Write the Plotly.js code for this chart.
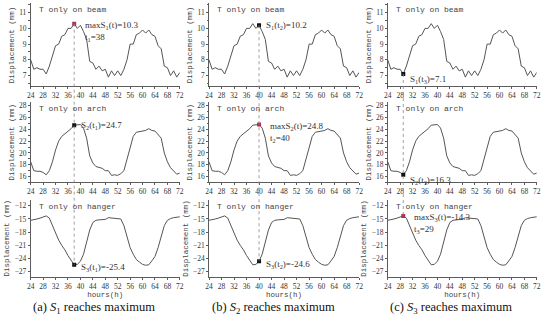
<!DOCTYPE html>
<html>
<head>
<meta charset="utf-8">
<script src="https://cdn.plot.ly/plotly-3.0.1.min.js"></script>
<style>html,body{margin:0;padding:0;background:#fff;}#chart{width:550px;height:323px;}</style>
</head>
<body>
<div id="chart"></div>
<script>
// ---- data ----
const hours = [24,25,26,27,28,29,30,31,32,33,34,35,36,37,38,39,40,41,42,43,44,45,46,47,48,49,50,51,52,53,54,55,56,57,58,59,60,61,62,63,64,65,66,67,68,69,70,71,72];
const beamDisp = [8.0,7.4,7.5,7.4,7.4,7.1,7.6,8.2,8.9,9.0,9.5,9.6,10.0,10.0,10.3,10.0,10.2,9.8,9.3,7.9,7.8,7.4,7.6,7.3,7.4,6.9,7.3,7.0,7.3,7.0,7.4,8.0,9.0,9.0,9.6,9.7,9.9,9.7,9.9,9.6,9.5,8.9,8.7,7.6,7.5,7.0,7.3,6.9,7.2];
const archDisp = [18.5,17.0,16.9,16.9,16.7,16.3,17.0,18.5,20.5,22.0,22.8,23.2,23.7,24.1,24.7,24.8,24.8,24.2,22.5,19.5,18.3,17.7,17.5,17.4,17.0,17.0,16.2,16.3,16.2,16.5,17.0,18.8,21.0,22.8,23.5,23.6,23.8,23.8,24.1,23.8,23.7,23.0,22.5,20.0,18.5,17.5,17.0,16.4,16.6];
const hangerDisp = [-15.3,-15.2,-15.0,-14.8,-14.6,-14.3,-14.8,-16.5,-18.5,-19.8,-21.0,-22.0,-23.3,-24.5,-25.4,-25.3,-24.6,-23.0,-20.5,-17.5,-15.8,-15.3,-15.2,-15.2,-15.1,-14.7,-14.8,-14.8,-14.9,-15.0,-16.5,-19.0,-21.5,-23.0,-24.2,-24.8,-25.3,-25.5,-25.4,-24.5,-23.5,-21.5,-19.0,-16.5,-15.3,-14.9,-14.7,-14.6,-14.5];
const rowLabels = ["T only on beam","T only on arch","T only on hanger"];
const criticalTimes = [38, 40, 29];
const maxRow = [0, 1, 2];
const captions = ["(a) <i>S</i><sub>1</sub> reaches maximum","(b) <i>S</i><sub>2</sub> reaches maximum","(c) <i>S</i><sub>3</sub> reaches maximum"];
const xTickVals = [24,28,32,36,40,44,48,52,56,60,64,68,72];

// ---- layout geometry ----
const series = [beamDisp, archDisp, hangerDisp];
const yRanges = [[6.3,11.6],[15.0,28.6],[-28.2,-10.6]];
const yDticks = [1,2,3];
const colDom = [[0.0558,0.327],[0.380,0.653],[0.705,0.976]];
const rowDom = [[0.732,0.990],[0.435,0.684],[0.142,0.382]];
const tickFont = {family:"Liberation Serif", size:7.5, color:"#333"};
const monoFont = {family:"Liberation Mono", size:7.5, color:"#444"};
const annFont = {family:"Liberation Serif", size:9, color:"#333"};

const traces = [], layout = {
  width:550, height:323, margin:{l:0,r:0,t:0,b:0},
  paper_bgcolor:"#fff", plot_bgcolor:"#fff", showlegend:false,
  annotations:[], shapes:[]
};

function paperY(r, v){
  const [a,b]=yRanges[r], [d0,d1]=rowDom[r];
  return d0 + (v-a)/(b-a)*(d1-d0);
}

for (let c=0;c<3;c++){
  const t = criticalTimes[c];
  const idx = hours.indexOf(t);
  for (let r=0;r<3;r++){
    const n = r*3+c+1;
    const xa = "x"+(n===1?"":n), ya = "y"+(n===1?"":n);
    traces.push({x:hours, y:series[r], xaxis:xa, yaxis:ya, type:"scatter", mode:"lines",
      line:{color:"#555", width:1}, hoverinfo:"skip"});
    const isMax = maxRow[c]===r;
    traces.push({x:[t], y:[series[r][idx]], xaxis:xa, yaxis:ya, type:"scatter", mode:"markers",
      marker:{symbol:"square", size:4, color: isMax ? "#b03050" : "#111"}, hoverinfo:"skip"});
    const axX = "xaxis"+(n===1?"":n), axY = "yaxis"+(n===1?"":n);
    layout[axX] = {domain:colDom[c], anchor:ya, range:[24,72], tickvals:xTickVals,
      ticks:"outside", ticklen:2, tickwidth:0.8, tickcolor:"#333", showline:true, linecolor:"#333", linewidth:0.8,
      showgrid:false, zeroline:false, tickfont:tickFont, fixedrange:true};
    if (r===2) layout[axX].title = {text:"hours(h)", font:monoFont, standoff:1};
    layout[axY] = {domain:rowDom[r], anchor:xa, range:yRanges[r], dtick:yDticks[r],
      ticks:"outside", ticklen:2, tickwidth:0.8, tickcolor:"#333", showline:true, linecolor:"#333", linewidth:0.8,
      minor:{ticks:"outside", ticklen:1.5, tickcolor:"#333", nticks:2},
      showgrid:false, zeroline:false, tickfont:tickFont, fixedrange:true,
      title:{text:"Displacement (mm)", font:monoFont, standoff:3}};
    layout.annotations.push({xref:xa+" domain", yref:ya+" domain", x:0.04, y:1.0, xanchor:"left", yanchor:"top",
      text:rowLabels[r], showarrow:false, font:{family:"Liberation Mono", size:8, color:"#444"}});
    const v = series[r][idx];
    const sub = (c+1);
    let txt = isMax ? "maxS<sub>"+(r+1)+"</sub>(t)="+v+"<br>t<sub>"+sub+"</sub>="+t
                    : "S<sub>"+(r+1)+"</sub>(t<sub>"+sub+"</sub>)="+v;
    let yanchor = isMax ? "top" : "middle";
    let yshift = isMax ? 6 : 0;
    let xshift = isMax ? 9 : 5;
    if (!isMax && c===2) { yanchor="top"; yshift=2; }
    if (!isMax && r===2) { yanchor="middle"; yshift=-3; }
    layout.annotations.push({xref:xa, yref:ya, x:t, y:v, xanchor:"left", yanchor:yanchor, xshift:xshift, yshift:yshift,
      text: txt, align:"left", showarrow:false, font:annFont});
  }
  const xa1 = "x"+(c===0?"":(c+1));
  layout.shapes.push({type:"line", xref:xa1, yref:"paper", x0:t, x1:t,
    y0:paperY(0, series[0][idx]), y1:paperY(2, series[2][idx]),
    line:{color:"#888", width:0.8, dash:"dot"}});
  layout.annotations.push({xref:"paper", yref:"paper", x:(colDom[c][0]+colDom[c][1])/2 - 0.02, y:0.045,
    xanchor:"center", yanchor:"middle", text:captions[c], showarrow:false,
    font:{family:"Liberation Serif", size:12.5, color:"#111"}});
}

Plotly.newPlot("chart", traces, layout, {staticPlot:true, displayModeBar:false});
</script>
</body>
</html>
